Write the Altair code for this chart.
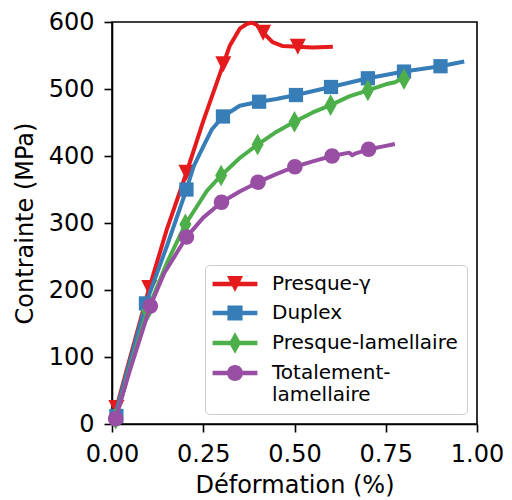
import altair as alt
import pandas as pd

series_names = ["Presque-γ", "Duplex", "Presque-lamellaire", "Totalement-lamellaire"]
series_colors = ["#e41a1c", "#377eb8", "#4daf4a", "#984ea3"]

# Presque-gamma
pg_x = [0.0, 0.012, 0.05, 0.102, 0.15, 0.204, 0.25, 0.305, 0.323, 0.35, 0.369, 0.382, 0.396, 0.414, 0.44, 0.468, 0.509, 0.55, 0.605]
pg_y = [0, 24, 100, 203, 290, 375, 452, 537, 565, 590, 597, 599, 596, 584, 570, 564, 563, 562, 563]
pg_mx = [0.012, 0.102, 0.204, 0.305, 0.414, 0.509]
pg_my = [24, 203, 375, 537, 584, 563]

# Duplex
du_x = [0.0, 0.007, 0.05, 0.093, 0.15, 0.204, 0.224, 0.251, 0.274, 0.304, 0.35, 0.403, 0.45, 0.504, 0.6, 0.701, 0.8, 0.9, 0.965]
du_y = [0, 10, 95, 180, 265, 350, 385, 415, 440, 459, 475, 481, 485, 491, 503, 516, 526, 534, 541]
du_mx = [0.012, 0.093, 0.204, 0.304, 0.403, 0.504, 0.6, 0.701, 0.8, 0.9]
du_my = [12, 180, 350, 459, 481, 491, 503, 516, 526, 534]

# Presque-lamellaire
pl_x = [0.0, 0.01, 0.05, 0.097, 0.15, 0.201, 0.233, 0.26, 0.299, 0.35, 0.399, 0.45, 0.5, 0.55, 0.599, 0.65, 0.701, 0.75, 0.775, 0.8]
pl_y = [0, 8, 85, 169, 240, 298, 325, 348, 371, 397, 417, 436, 451, 465, 476, 489, 498, 507, 510, 517]
pl_mx = [0.01, 0.097, 0.201, 0.299, 0.399, 0.5, 0.599, 0.701, 0.8]
pl_my = [8, 169, 298, 371, 417, 451, 476, 498, 515]

# Totalement-lamellaire
tl_x = [0.0, 0.01, 0.05, 0.105, 0.143, 0.204, 0.25, 0.3, 0.35, 0.4, 0.45, 0.501, 0.55, 0.603, 0.65, 0.658, 0.668, 0.703, 0.74, 0.775]
tl_y = [0, 8, 82, 176, 225, 279, 308, 331, 347, 361, 373, 384, 392, 400, 405, 401, 404, 410, 414, 418]
tl_mx = [0.01, 0.105, 0.204, 0.3, 0.4, 0.501, 0.603, 0.703]
tl_my = [8, 176, 279, 331, 361, 384, 400, 410]

x_ticks = [0, 0.25, 0.5, 0.75, 1.0]
y_ticks = [0, 100, 200, 300, 400, 500, 600]

# marker shapes (plot) and legend shapes (line segment + marker)
tri = "M-1,-1L1,-1L0,1Z"
sq = "M-0.95,-0.95L0.95,-0.95L0.95,0.95L-0.95,0.95Z"
dia = "M0,-1.35L0.75,0L0,1.35L-0.75,0Z"
circ = "M-1,0A1,1,0,1,1,1,0A1,1,0,1,1,-1,0Z"
bar = "M-2.8,-0.28L2.8,-0.28L2.8,0.28L-2.8,0.28Z"
legend_shapes = [bar + tri, bar + sq, bar + dia, bar + circ]
plot_shapes = [tri, sq, dia, circ]

line_data = [(pg_x, pg_y), (du_x, du_y), (pl_x, pl_y), (tl_x, tl_y)]
marker_data = [(pg_mx, pg_my), (du_mx, du_my), (pl_mx, pl_my), (tl_mx, tl_my)]

color_scale = alt.Scale(domain=series_names, range=series_colors)
x_scale = alt.Scale(domain=[0, 1], nice=False, zero=False)
y_scale = alt.Scale(domain=[0, 600], nice=False, zero=False)

x_axis = alt.Axis(values=x_ticks, format=".2f", title="Déformation (%)", labelFlush=False,
                  labelPadding=10, titlePadding=7)
y_axis = alt.Axis(values=y_ticks, format="d", title="Contrainte (MPa)", labelFlush=False,
                  labelPadding=10, titlePadding=11)

X = alt.X("x:Q", scale=x_scale, axis=x_axis)
Y = alt.Y("y:Q", scale=y_scale, axis=y_axis)

legend = alt.Legend(
    title=None, orient="bottom-right", offset=10, padding=9,
    strokeColor="#cccccc", fillColor="white", cornerRadius=4,
    labelFont="DejaVu Sans", labelFontSize=20, labelColor="black", labelLimit=400,
    symbolSize=256, symbolStrokeWidth=0, symbolOffset=11, labelOffset=27,
    rowPadding=9, symbolOpacity=1,
    labelExpr="datum.label == 'Totalement-lamellaire' ? ['Totalement-', 'lamellaire'] : datum.label",
)

all_markers = []
for name, (mx, my) in zip(series_names, marker_data):
    for a, b in zip(mx, my):
        all_markers.append({"x": a, "y": b, "serie": name})
legend_df = pd.DataFrame(all_markers)

legend_layer = alt.Chart(legend_df).transform_filter("false").mark_point(filled=True, size=256).encode(
    x=X, y=Y,
    color=alt.Color("serie:N", scale=color_scale, legend=legend),
    shape=alt.Shape("serie:N", scale=alt.Scale(domain=series_names, range=legend_shapes), legend=legend),
)

marker_sizes = [256, 225, 256, 240]
layers = [legend_layer]
for i, name in enumerate(series_names):
    lx, ly = line_data[i]
    mx, my = marker_data[i]
    ldf = pd.DataFrame({"x": lx, "y": ly, "serie": name, "i": list(range(len(lx)))})
    mdf = pd.DataFrame({"x": mx, "y": my, "serie": name})
    layers.append(
        alt.Chart(ldf).mark_line(strokeWidth=4, strokeJoin="round").encode(
            x=X, y=Y, order="i:Q",
            color=alt.Color("serie:N", scale=color_scale, legend=None),
        )
    )
    layers.append(
        alt.Chart(mdf).mark_point(filled=True, opacity=1, size=marker_sizes[i], shape=plot_shapes[i], strokeWidth=0).encode(
            x=X, y=Y,
            color=alt.Color("serie:N", scale=color_scale, legend=None),
        )
    )

chart = alt.layer(*layers).properties(
    width=365, height=402,
    padding={"left": 104, "top": 14, "right": 26, "bottom": 74},
    autosize=alt.AutoSizeParams(type="none"),
).configure_view(
    stroke="black", strokeWidth=1.6
).configure_axis(
    labelFont="DejaVu Sans", labelFontSize=24, labelColor="black",
    titleFont="DejaVu Sans", titleFontSize=24, titleFontWeight="normal", titleColor="black",
    domainColor="black", domainWidth=1.6, tickColor="black", tickWidth=1.6, tickSize=8,
    grid=False,
)

chart.save("out.html", embed_options={"renderer": "svg", "actions": False})
